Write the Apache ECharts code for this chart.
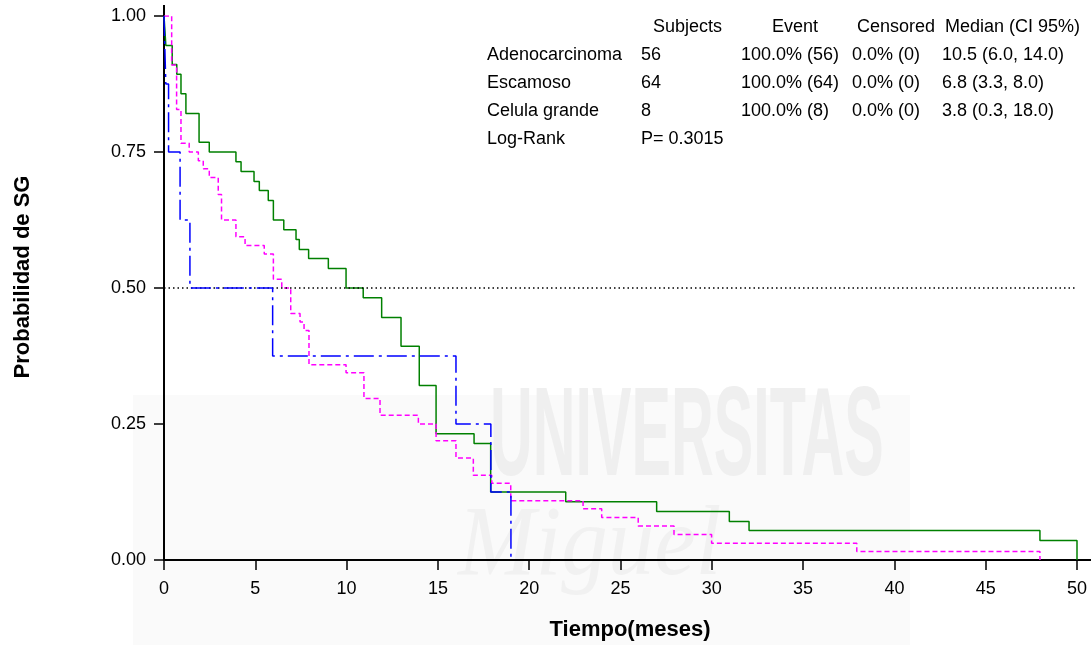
<!DOCTYPE html>
<html>
<head>
<meta charset="utf-8">
<script src="https://cdn.jsdelivr.net/npm/echarts/dist/echarts.min.js"></script>
<style>
  html, body { margin: 0; padding: 0; background: #ffffff; }
  #chart { width: 1091px; height: 645px; }
</style>
</head>
<body>
<div id="chart"></div>
<script>
// ---- Data ----
const timesAdeno = [0, 0.1, 0.45, 0.7, 0.93, 1.2, 1.92, 2.48, 3.94, 4.22, 4.93, 5.22, 5.71, 5.99, 6.56, 7.23, 7.41, 7.92, 9.0, 9.97, 10.91, 11.92, 12.98, 13.98, 14.9, 16.98, 17.89, 22.0, 26.98, 30.96, 32.04, 47.97, 50];
const survAdeno  = [1, 0.946, 0.911, 0.893, 0.857, 0.821, 0.768, 0.75, 0.732, 0.714, 0.696, 0.679, 0.661, 0.625, 0.607, 0.589, 0.571, 0.554, 0.536, 0.5, 0.482, 0.446, 0.393, 0.321, 0.232, 0.214, 0.125, 0.107, 0.089, 0.071, 0.054, 0.036, 0];

const timesEscam = [0, 0.42, 0.69, 0.93, 1.38, 1.88, 2.15, 2.48, 2.97, 3.15, 3.94, 4.44, 5.49, 5.99, 6.45, 6.94, 7.45, 7.67, 7.94, 9.97, 10.95, 11.83, 13.93, 14.9, 15.99, 16.94, 17.95, 18.99, 22.95, 23.97, 25.97, 27.93, 29.99, 37.94, 47.97];
const survEscam  = [1, 0.91, 0.828, 0.766, 0.75, 0.734, 0.719, 0.703, 0.672, 0.625, 0.594, 0.578, 0.5625, 0.516, 0.5, 0.453, 0.4375, 0.422, 0.359, 0.344, 0.297, 0.266, 0.25, 0.219, 0.1875, 0.156, 0.141, 0.109, 0.094, 0.078, 0.0625, 0.047, 0.031, 0.0156, 0];

const timesCelula = [0, 0.1, 0.25, 0.88, 1.42, 5.95, 15.99, 17.9, 19.0];
const survCelula  = [1, 0.875, 0.75, 0.625, 0.5, 0.375, 0.25, 0.125, 0];

const seriesNames = ['Adenocarcinoma', 'Escamoso', 'Celula grande'];
const xTicks = [0, 5, 10, 15, 20, 25, 30, 35, 40, 45, 50];
const yTicks = [0, 0.25, 0.5, 0.75, 1.0];

const tableHeader = ['Subjects', 'Event', 'Censored', 'Median (CI 95%)'];
const tableRows = [
  ['Adenocarcinoma', '56', '100.0% (56)', '0.0% (0)', '10.5 (6.0, 14.0)'],
  ['Escamoso', '64', '100.0% (64)', '0.0% (0)', '6.8 (3.3, 8.0)'],
  ['Celula grande', '8', '100.0% (8)', '0.0% (0)', '3.8 (0.3, 18.0)'],
  ['Log-Rank', 'P= 0.3015']
];

// ---- Build ----
function pairs(t, s) { return t.map((v, i) => [v, s[i]]); }

const FONT = '"Liberation Sans", Arial, sans-serif';
const chart = echarts.init(document.getElementById('chart'), null, { renderer: 'canvas' });

const headerX = [653, 772, 857, 945];
const colX = [487, 641, 741, 852, 942];
const rowY = [55, 83, 111, 139];

const graphics = [];
// faint watermark (background)
graphics.push({ type: 'rect', z: -100, silent: true, shape: { x: 133, y: 395, width: 777, height: 250 }, style: { fill: '#fafafa' } });
graphics.push({ type: 'text', z: -99, silent: true, x: 490, y: 440, scaleX: 0.47,
  style: { text: 'UNIVERSITAS', font: 'bold 126px ' + FONT, fill: '#efefef', textAlign: 'left', textVerticalAlign: 'middle' } });
graphics.push({ type: 'text', z: -99, silent: true, x: 458, y: 548, scaleX: 0.93,
  style: { text: 'Miguel', font: 'italic 100px "Liberation Serif", serif', fill: '#f1f1f1', textAlign: 'left', textVerticalAlign: 'middle' } });

// table
tableHeader.forEach((h, i) => graphics.push({ type: 'text', x: headerX[i], y: 27,
  style: { text: h, font: '18px ' + FONT, fill: '#000', textAlign: 'left', textVerticalAlign: 'middle' } }));
tableRows.forEach((row, r) => row.forEach((cell, c) => graphics.push({ type: 'text', x: colX[c], y: rowY[r],
  style: { text: cell, font: '18px ' + FONT, fill: '#000', textAlign: 'left', textVerticalAlign: 'middle' } })));

// axis titles
graphics.push({ type: 'text', x: 630, y: 630,
  style: { text: 'Tiempo(meses)', font: 'bold 22px ' + FONT, fill: '#000', textAlign: 'center', textVerticalAlign: 'middle' } });
graphics.push({ type: 'text', x: 23, y: 277, rotation: Math.PI / 2,
  style: { text: 'Probabilidad de SG', font: 'bold 22px ' + FONT, fill: '#000', textAlign: 'center', textVerticalAlign: 'middle' } });

// axis line extensions (as in the reference frame)
graphics.push({ type: 'line', shape: { x1: 164, y1: 5, x2: 164, y2: 16 }, style: { stroke: '#000', lineWidth: 2 } });
graphics.push({ type: 'line', shape: { x1: 1077, y1: 560, x2: 1091, y2: 560 }, style: { stroke: '#000', lineWidth: 2 } });

const option = {
  animation: false,
  backgroundColor: '#ffffff',
  grid: { left: 164, right: 14, top: 16, bottom: 85, containLabel: false },
  xAxis: {
    type: 'value', min: 0, max: 50, interval: 5,
    axisLine: { onZero: false, lineStyle: { color: '#000', width: 2 } },
    axisTick: { length: 10, lineStyle: { color: '#000', width: 1.5 } },
    splitLine: { show: false },
    axisLabel: { margin: 20, color: '#000', fontSize: 18, fontFamily: FONT,
      formatter: v => xTicks.indexOf(v) >= 0 ? String(v) : '' }
  },
  yAxis: {
    type: 'value', min: 0, max: 1, interval: 0.25,
    axisLine: { show: true, lineStyle: { color: '#000', width: 2 } },
    axisTick: { show: true, length: 10, lineStyle: { color: '#000', width: 1.5 } },
    splitLine: { show: false },
    axisLabel: { margin: 18, color: '#000', fontSize: 18, fontFamily: FONT,
      formatter: v => yTicks.indexOf(v) >= 0 ? v.toFixed(2) : '' }
  },
  graphic: graphics,
  series: [
    {
      name: seriesNames[0], type: 'line', step: 'end', symbol: 'none', z: 3,
      data: pairs(timesAdeno, survAdeno),
      lineStyle: { color: '#008000', width: 1.5, type: 'solid' },
      markLine: {
        silent: true, symbol: 'none', label: { show: false },
        lineStyle: { color: '#000', width: 1.5, type: [1.5, 3] },
        data: [{ yAxis: 0.5 }]
      }
    },
    {
      name: seriesNames[1], type: 'line', step: 'end', symbol: 'none', z: 4,
      data: pairs(timesEscam, survEscam),
      lineStyle: { color: '#ff00ff', width: 1.5, type: [5, 3] }
    },
    {
      name: seriesNames[2], type: 'line', step: 'end', symbol: 'none', z: 5,
      data: pairs(timesCelula, survCelula),
      lineStyle: { color: '#0000ff', width: 1.5, type: [20, 5, 3, 5] }
    }
  ]
};
chart.setOption(option);
</script>
</body>
</html>
